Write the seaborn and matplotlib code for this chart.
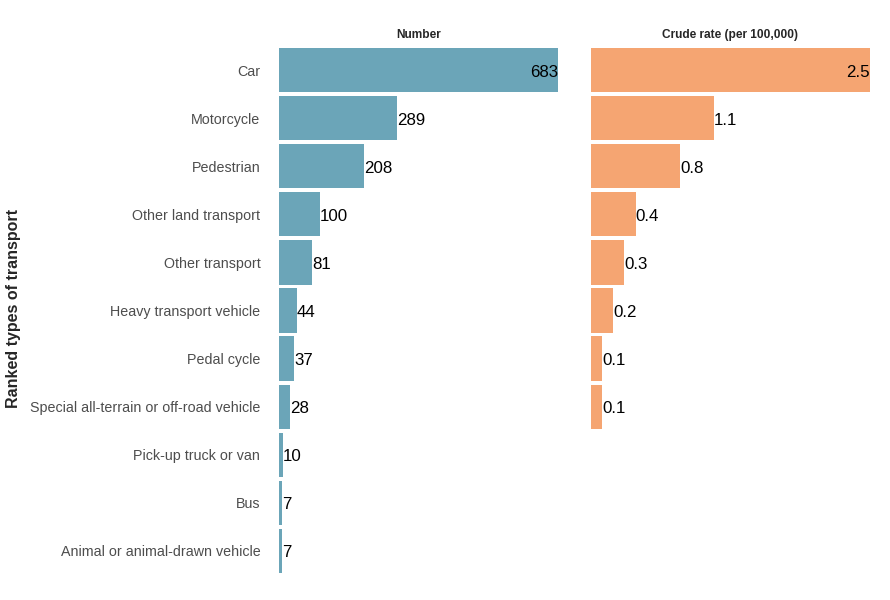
import matplotlib
matplotlib.use('Agg')
import matplotlib.pyplot as plt
import numpy as np
import pandas as pd
import seaborn as sb

# Deaths by type of transport: counts and crude rate per 100,000

transport = ['Car', 'Motorcycle', 'Pedestrian', 'Other land transport', 'Other transport',
             'Heavy transport vehicle', 'Pedal cycle', 'Special all-terrain or off-road vehicle',
             'Pick-up truck or van', 'Bus', 'Animal or animal-drawn vehicle']
number = [683, 289, 208, 100, 81, 44, 37, 28, 10, 7, 7]
rate = [2.5, 1.1, 0.8, 0.4, 0.3, 0.2, 0.1, 0.1, np.nan, np.nan, np.nan]

df = pd.DataFrame({'transport': transport, 'number': number, 'rate': rate})

sb.set_style('white')
plt.rcParams['font.family'] = ['Liberation Sans', 'DejaVu Sans']

fig = plt.figure(figsize=(8.9, 6), dpi=100)
axNum = fig.add_axes([0.3135, 0.042, 0.3135, 0.881])
axRate = fig.add_axes([0.664, 0.042, 0.3135, 0.881])

panels = [(axNum, 'number', '#6BA5B8', 'Number', '{:.0f}'),
          (axRate, 'rate', '#F5A572', 'Crude rate (per 100,000)', '{:.1f}')]

for ax, col, colour, title, fmt in panels:
    sb.barplot(data=df, y='transport', x=col, orient='h', color=colour,
               width=0.92, saturation=1, ax=ax, order=transport, linewidth=0)
    vals = df[col].to_numpy()
    vmax = np.nanmax(vals)
    ax.set_xlim(0, vmax)
    ax.set_ylim(len(transport) - 0.5, -0.5)
    for i, v in enumerate(vals):
        if np.isnan(v):
            continue
        ha = 'right' if v == vmax else 'left'
        ax.text(v, i + 0.04, fmt.format(v), ha=ha, va='center', fontsize=12.2, color='black')
    ax.set_title(title, fontsize=8.6, fontweight='bold', pad=6)
    ax.set_xlabel('')
    ax.set_xticks([])
    sb.despine(ax=ax, left=True, bottom=True)

axNum.set_ylabel('')
axNum.tick_params(axis='y', length=0, labelsize=10.3, labelcolor='#4d4d4d', pad=13.5)
axRate.set_ylabel('')
axRate.set_yticks([])

fig.text(14 / 890, 1 - 309 / 600, 'Ranked types of transport', rotation=90,
         ha='center', va='center', fontsize=11.5, fontweight='bold')

fig.savefig('out.png', dpi=100)
